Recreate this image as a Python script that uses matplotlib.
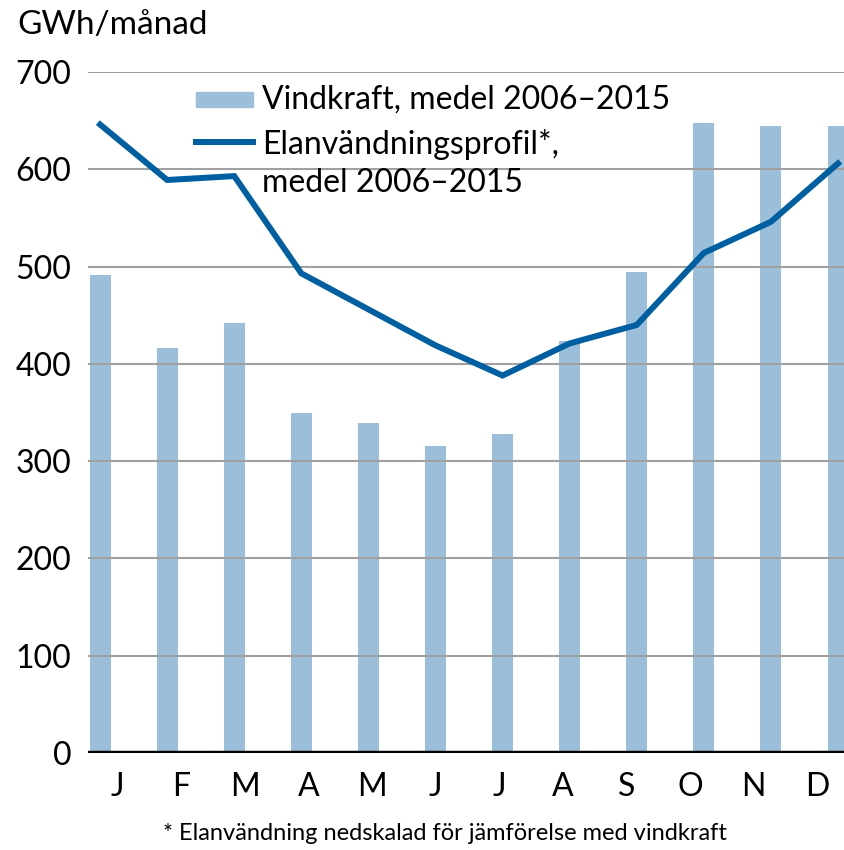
import numpy as np
import matplotlib.pyplot as plt
from matplotlib.patches import Rectangle
from matplotlib.lines import Line2D

plt.rcParams['font.family'] = ['Lato', 'DejaVu Sans']

# Monthly values, GWh/månad
months = ['J', 'F', 'M', 'A', 'M', 'J', 'J', 'A', 'S', 'O', 'N', 'D']
wind = [491, 416, 442, 350, 339, 316, 328, 424, 494, 648, 645, 645]
demand = [646, 589, 593, 493, 456, 419, 388, 421, 440, 514, 546, 606]

bar_color = '#9bbfda'
line_color = '#005fa0'

fig = plt.figure(figsize=(8.44, 8.5), dpi=100)
ax = fig.add_axes([0.1043, 0.1141, 0.8957, 0.8012])

x = np.arange(len(months))
ax.bar(x, wind, width=0.31, color=bar_color, zorder=1)
ax.plot(x, demand, color=line_color, lw=4.3, zorder=3, solid_joinstyle='miter')

ax.set_ylim(0, 700)
ax.set_xlim(-0.18, 11.09)
ax.set_yticks(range(0, 701, 100))
ax.yaxis.grid(True, color='#a0a0a0', lw=1.5, zorder=2)
ax.set_axisbelow(False)
ax.axhline(0, color='black', lw=3.2, zorder=4)

# month labels sit slightly offset from the bars in the original
ax.set_xticks(np.linspace(0.26, 10.69, 12))
ax.set_xticklabels(months)
ax.tick_params(axis='both', length=0, labelsize=23, colors='black')
ax.tick_params(axis='y', pad=12)
ax.tick_params(axis='x', pad=14)
for s in ax.spines.values():
    s.set_visible(False)

fig.text(0.02, 0.97, 'GWh/månad', fontsize=24, va='center', ha='left')

# legend drawn by hand
fig.patches.append(Rectangle((196 / 844, 1 - 107 / 850), 57 / 844, 15 / 850,
                             transform=fig.transFigure, color=bar_color))
fig.lines.append(Line2D([196 / 844, 253 / 844], [1 - 142 / 850, 1 - 142 / 850],
                        transform=fig.transFigure, color=line_color, lw=4.3))
fig.text(262 / 844, 1 - 100 / 850, 'Vindkraft, medel 2006–2015', fontsize=23, va='center')
fig.text(262 / 844, 1 - 145 / 850, 'Elanvändningsprofil*,', fontsize=23, va='center')
fig.text(262 / 844, 1 - 183 / 850, 'medel 2006–2015', fontsize=23, va='center')

fig.text(445 / 844, 1 - 833 / 850, '* Elanvändning nedskalad för jämförelse med vindkraft',
         fontsize=17, ha='center', va='center')

fig.savefig('out.png', dpi=100)
